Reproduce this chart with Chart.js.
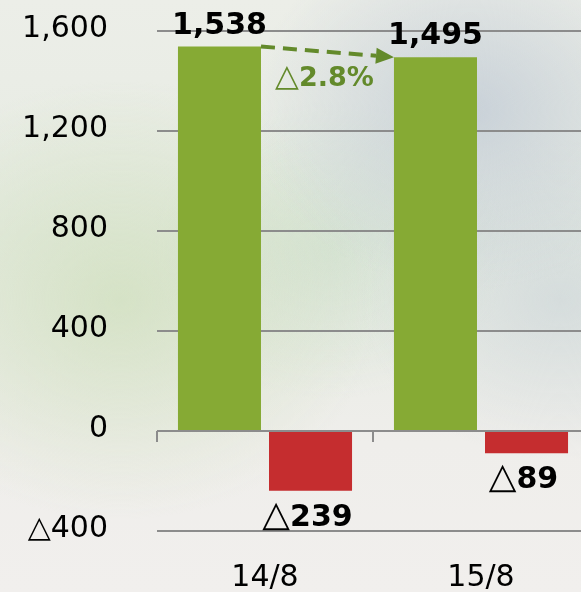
<!DOCTYPE html>
<html>
<head>
<meta charset="utf-8">
<script src="https://cdn.jsdelivr.net/npm/chart.js@4/dist/chart.umd.min.js"></script>
<style>
html,body{margin:0;padding:0;overflow:hidden;width:581px;height:592px;}
body{
  background:
    radial-gradient(ellipse 220px 180px at 470px 110px, rgba(190,200,212,0.75), rgba(190,200,212,0) 100%),
    radial-gradient(ellipse 200px 160px at 560px 300px, rgba(200,210,215,0.6), rgba(200,210,215,0) 100%),
    radial-gradient(ellipse 260px 220px at 120px 300px, rgba(205,222,185,0.7), rgba(205,222,185,0) 100%),
    radial-gradient(ellipse 180px 150px at 330px 250px, rgba(200,220,200,0.55), rgba(200,220,200,0) 100%),
    linear-gradient(180deg, #eceee8 0%, #e6ebe2 40%, #efeeeb 75%, #f1efed 100%);
}
#wrap{position:absolute;left:0;top:0;width:600px;height:592px;}
</style>
</head>
<body>
<div id="wrap"><canvas id="c"></canvas></div>
<script>
const categories = ['14/8', '15/8'];
const salesValues = [1538, 1495];
const profitValues = [-239, -89];
const yTickValues = [-400, 0, 400, 800, 1200, 1600];

const GREEN = '#86aa34';
const RED = '#c52d2f';
const DARKGREEN = '#638a2b';
const GRID = '#8c8c8c';
const FONT = '"DejaVu Sans", Verdana, sans-serif';

function fmt(v){
  return v < 0 ? '△' + Math.abs(v).toLocaleString('en-US') : v.toLocaleString('en-US');
}

function drawMixed(ctx, x, y, parts){
  let total = 0;
  parts.forEach(p => { ctx.font = p.font; p.w = ctx.measureText(p.text).width; total += p.w; });
  let cx = x - total/2;
  ctx.textAlign = 'left';
  parts.forEach(p => { ctx.font = p.font; ctx.fillText(p.text, cx, y); cx += p.w; });
}

const overlay = {
  id: 'overlay',
  afterDatasetsDraw(chart){
    const ctx = chart.ctx;
    const xs = chart.scales.x, ys = chart.scales.y;
    ctx.save();
    const zeroY = ys.getPixelForValue(0);
    ctx.strokeStyle = GRID; ctx.lineWidth = 2;
    const half = (xs.getPixelForValue(1) - xs.getPixelForValue(0)) / 2;
    for (let i = 0; i <= categories.length; i++){
      const bx = Math.round(xs.getPixelForValue(0) - half + i*2*half);
      ctx.beginPath(); ctx.moveTo(bx, zeroY); ctx.lineTo(bx, zeroY + 11); ctx.stroke();
    }
    ctx.fillStyle = '#000';
    ctx.textBaseline = 'alphabetic';
    chart.data.datasets.forEach((ds, di) => {
      const meta = chart.getDatasetMeta(di);
      meta.data.forEach((el, i) => {
        const v = ds.data[i];
        if (v >= 0){
          drawMixed(ctx, el.x, el.y - 13, [{text: v.toLocaleString('en-US'), font: 'bold 30px ' + FONT}]);
        } else {
          drawMixed(ctx, el.x - 3, el.y + 35, [
            {text: '△', font: '36px ' + FONT},
            {text: Math.abs(v).toLocaleString('en-US'), font: 'bold 30px ' + FONT}
          ]);
        }
      });
    });
    const m = chart.getDatasetMeta(0).data;
    const a = m[0], b = m[1];
    const x1 = a.x + a.width/2, y1 = a.y;
    const x2 = b.x - b.width/2, y2 = b.y;
    const ang = Math.atan2(y2 - y1, x2 - x1);
    const headLen = 18, headW = 8;
    ctx.strokeStyle = DARKGREEN; ctx.fillStyle = DARKGREEN;
    ctx.lineWidth = 4; ctx.setLineDash([14, 8]);
    ctx.beginPath(); ctx.moveTo(x1, y1);
    ctx.lineTo(x2 - headLen*Math.cos(ang), y2 - headLen*Math.sin(ang)); ctx.stroke();
    ctx.setLineDash([]);
    ctx.beginPath();
    ctx.moveTo(x2, y2);
    ctx.lineTo(x2 - headLen*Math.cos(ang) - headW*Math.sin(ang), y2 - headLen*Math.sin(ang) + headW*Math.cos(ang));
    ctx.lineTo(x2 - headLen*Math.cos(ang) + headW*Math.sin(ang), y2 - headLen*Math.sin(ang) - headW*Math.cos(ang));
    ctx.closePath(); ctx.fill();
    const pct = Math.abs((salesValues[1] - salesValues[0]) / salesValues[0] * 100).toFixed(1);
    drawMixed(ctx, (x1 + x2)/2 - 3, (y1 + y2)/2 + 34, [
      {text: '△', font: '31px ' + FONT},
      {text: pct + '%', font: 'bold 27px ' + FONT}
    ]);
    ctx.restore();
  }
};

new Chart(document.getElementById('c'), {
  type: 'bar',
  data: {
    labels: categories,
    datasets: [
      {label: 'sales', data: salesValues, backgroundColor: GREEN, categoryPercentage: 0.843, barPercentage: 0.912},
      {label: 'profit', data: profitValues, backgroundColor: RED, categoryPercentage: 0.843, barPercentage: 0.912}
    ]
  },
  options: {
    responsive: true,
    maintainAspectRatio: false,
    animation: false,
    layout: {padding: {left: 22, right: 11, top: 31, bottom: 0}},
    plugins: {legend: {display: false}, tooltip: {enabled: false}},
    scales: {
      x: {
        afterFit(scale){ scale.height = 61; scale.paddingTop = 0; scale.paddingBottom = 0; },
        grid: {display: false},
        border: {display: false},
        ticks: {color: '#000', font: {family: FONT, size: 30, lineHeight: 1}, padding: 24}
      },
      y: {
        min: -400, max: 1600,
        afterFit(scale){ scale.width = 135; scale.paddingTop = 0; scale.paddingBottom = 0; },
        afterBuildTicks(scale){ scale.ticks = yTickValues.map(v => ({value: v})); },
        grid: {color: GRID, lineWidth: 2, drawTicks: false},
        border: {display: false},
        ticks: {color: '#000', font: {family: FONT, size: 30, lineHeight: 0.3}, padding: 49, labelOffset: -2, callback: v => fmt(v)}
      }
    }
  },
  plugins: [overlay]
});
</script>
</body>
</html>
